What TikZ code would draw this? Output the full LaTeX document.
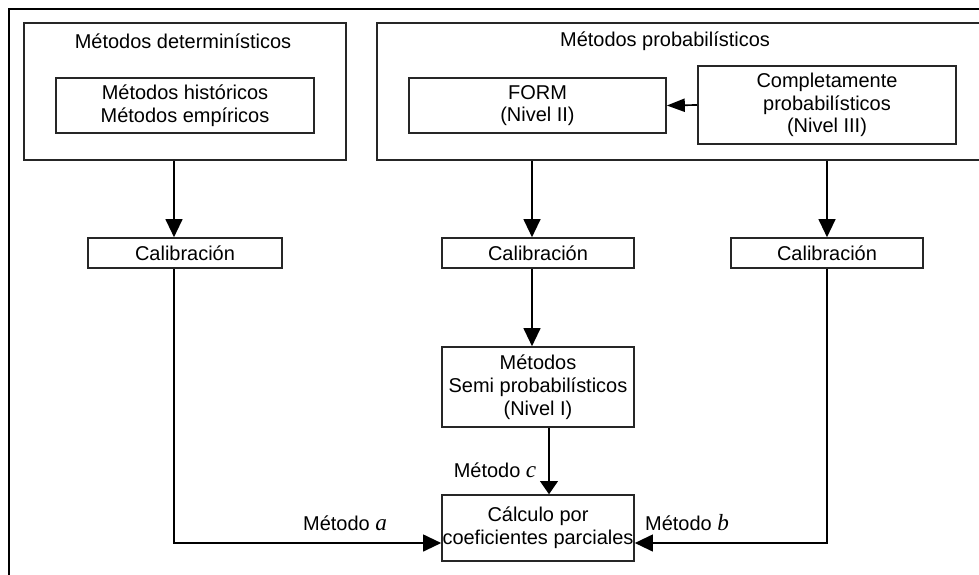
\documentclass[tikz,border=0pt]{standalone}
\usepackage{fontspec}
\setmainfont{Liberation Sans}
\newfontfamily\letterfont{Liberation Serif}
\newcommand{\metletter}[1]{{\letterfont\itshape\fontsize{16.5pt}{16.5pt}\selectfont #1}}
\usetikzlibrary{arrows.meta, positioning}

\begin{document}
\begin{tikzpicture}[x=0.025cm, y=-0.025cm,
    font=\fontsize{14.2pt}{16.2pt}\selectfont,
    box/.style={draw=black!85, line width=1.1pt, inner sep=0pt, align=center},
    arr/.style={-{Triangle[length=0.45cm, width=0.42cm]}, line width=1.2pt},
    thinarr/.style={-{Triangle[length=0.33cm, width=0.45cm]}, line width=0.8pt}]

    \useasboundingbox (0,0) rectangle (979,574);
    \clip (0,0) rectangle (979,574);

    % Frame
    \draw[line width=1.4pt] (9,590) -- (9,9) -- (995,9);

    % Deterministic methods
    \node[box, minimum width=8.05cm, minimum height=3.425cm] (det) at (185,91.5) {};
    \node (dettitle) at (183,41) {Métodos determinísticos};
    \node[box, minimum width=6.45cm, minimum height=1.375cm] (hist) at (185,105.5) {Métodos históricos\\Métodos empíricos};

    % Probabilistic methods (cut at the right edge)
    \node[box, minimum width=15.575cm, minimum height=3.425cm] (prob) at (688.5,91.5) {};
    \node (probtitle) at (665,41) {Métodos probabilísticos};
    \node[box, minimum width=6.425cm, minimum height=1.375cm] (form) at (537.5,105.5) {FORM\\(Nivel II)};
    \node[box, minimum width=6.45cm, minimum height=1.95cm] (comp) at (827,105) {Completamente\\probabilísticos\\(Nivel III)};
    \draw[-{Triangle[length=0.45cm, width=0.33cm]}, line width=1.2pt] (comp.west) -- (form.east);

    % Calibration
    \node[box, minimum width=4.85cm, minimum height=0.75cm] (calA) at (185,253) {Calibración};
    \node[box, minimum width=4.8cm, minimum height=0.75cm] (calB) at (538,253) {Calibración};
    \node[box, minimum width=4.8cm, minimum height=0.75cm] (calC) at (827,253) {Calibración};

    \coordinate (xa) at (174,0);
    \coordinate (xb) at (532,0);
    \coordinate (xc) at (549,0);
    \coordinate (ylow) at (0,543);

    \draw[arr] (det.south -| xa) -- (calA.north -| xa);
    \draw[arr] (prob.south -| xb) -- (calB.north -| xb);
    \draw[arr] (prob.south -| calC) -- (calC.north);

    % Semi probabilistic and partial coefficients
    \node[box, minimum width=4.8cm, minimum height=2.0cm] (semi) at (538,387) {Métodos\\Semi probabilísticos\\(Nivel I)};
    \node[box, minimum width=4.8cm, minimum height=1.65cm] (fin) at (538,528) {Cálculo por\\coeficientes parciales};

    \draw[arr] (calB.south -| xb) -- (semi.north -| xb);
    \draw[thinarr] (semi.south -| xc) -- (fin.north -| xc);
    \draw[arr] (calA.south -| xa) |- (fin.west |- ylow);
    \draw[arr] (calC.south) |- (fin.east |- ylow);

    \node (meta) at (345,523) {Método \metletter{a}};
    \node (metb) at (687,523) {Método \metletter{b}};
    \node (metc) at (495,470) {Método \metletter{c}};

\end{tikzpicture}
\end{document}
